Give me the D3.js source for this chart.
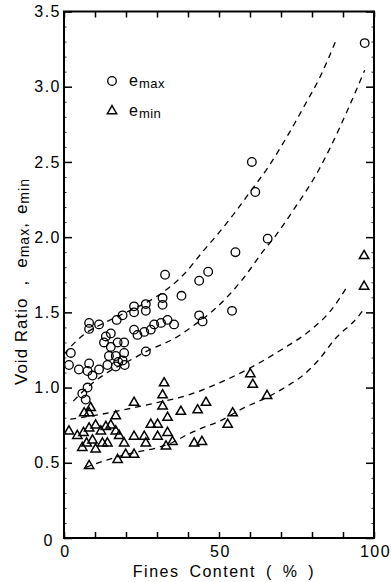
<!DOCTYPE html>
<html><head><meta charset="utf-8">
<script src="https://cdn.jsdelivr.net/npm/d3@7"></script>
<style>body{margin:0;background:#fff}svg{display:block}</style>
</head><body><svg id="c" width="391" height="582"></svg>
<script>
// Data: [fines content %, void ratio]
const emaxPoints = [
 [2.2,1.23],[1.6,1.15],[4.8,1.12],[7.6,1.11],[8.1,1.16],[9.2,1.08],[11.3,1.12],[14.0,1.15],[16.7,1.14],
 [16.7,1.21],[14.5,1.21],[12.9,1.30],[13.5,1.34],[15.1,1.36],[15.1,1.27],[17.3,1.30],[19.4,1.30],
 [19.4,1.23],[18.9,1.18],[19.6,1.15],[17.5,1.17],
 [8.1,1.43],[8.1,1.39],[11.3,1.42],[17.0,1.45],[18.9,1.48],[22.6,1.54],[22.6,1.50],
 [22.6,1.385],[23.7,1.35],[25.9,1.37],[28.0,1.385],[29.1,1.42],[31.3,1.43],[33.4,1.45],[35.5,1.42],
 [26.4,1.24],[26.4,1.555],[26.4,1.51],[31.8,1.595],[31.8,1.55],[32.6,1.75],[37.9,1.61],
 [43.6,1.71],[46.5,1.77],[43.6,1.48],[44.7,1.44],[54.2,1.51],[55.3,1.90],[65.7,1.99],
 [60.6,2.50],[61.7,2.30],[97.0,3.29],
 [7.6,1.00],[5.9,0.96],[7.0,0.92]
];
const eminPoints = [
 [1.6,0.71],[4.3,0.68],[6.3,0.70],[8.1,0.73],[10.2,0.75],[11.9,0.71],[13.5,0.74],[15.1,0.75],
 [16.7,0.71],[17.8,0.68],[19.4,0.63],[5.9,0.60],[7.3,0.63],[9.2,0.65],[10.2,0.59],[12.4,0.63],
 [14.0,0.63],[8.1,0.48],[17.3,0.52],[19.9,0.555],[22.6,0.555],[6.5,0.83],[8.1,0.83],[8.6,0.865],
 [16.7,0.81],[22.6,0.90],[22.6,0.675],[25.9,0.675],[26.4,0.63],[28.0,0.755],[30.2,0.755],[30.2,0.675],
 [33.4,0.70],[33.4,0.80],[31.8,0.875],[31.8,0.95],[32.3,1.03],[32.9,0.61],[35.0,0.64],[37.7,0.84],
 [42.0,0.63],[43.1,0.85],[44.5,0.64],[45.8,0.90],[52.8,0.755],[54.4,0.83],[60.1,1.09],[60.9,1.02],
 [65.5,0.946],[96.8,1.876],[96.8,1.672]
];
// Dashed trend curves
const emaxUpperCurve = [[0,1.22],[4,1.31],[8,1.375],[13,1.43],[20,1.50],[27,1.57],[33,1.65],[39,1.76],[45,1.91],[50,2.03],[55,2.16],[60,2.30],[66,2.47],[72,2.67],[78,2.89],[82,3.04],[88,3.32]];
const emaxLowerCurve = [[3,0.91],[8,1.01],[14,1.10],[21.6,1.185],[27,1.245],[35,1.32],[43,1.43],[48,1.51],[53,1.61],[58,1.73],[64,1.90],[69,2.03],[74,2.18],[82,2.44],[86,2.60],[91.6,2.85],[97,3.11]];
const eminUpperCurve = [[2,0.79],[10,0.815],[20,0.855],[30,0.90],[40,0.95],[50,1.03],[60,1.13],[70,1.25],[80,1.39],[86,1.51],[91.6,1.68]];
const eminLowerCurve = [[7,0.47],[14,0.52],[22,0.565],[30,0.60],[35,0.635],[40,0.69],[45,0.735],[50,0.775],[58,0.865],[65,0.93],[72,1.01],[77,1.08],[82,1.18],[87.3,1.32],[94.8,1.47],[97,1.53]];

const xMajorTicks = [0,10,20,30,40,50,60,70,80,90,100];
const xTickLabels = [0,50,100];
const yMajorTicks = [0,0.5,1.0,1.5,2.0,2.5,3.0,3.5];
const yMinorTicks = d3.range(0,3.51,0.1).map(v=>+v.toFixed(2));
const legendItems = ["max","min"];

const svg = d3.select("#c");
const FONT = "'Liberation Sans', Arial, sans-serif";
const x = d3.scaleLinear().domain([0,100]).range([64,374]);
const y = d3.scaleLinear().domain([0,3.5]).range([538,11.5]);

function styleAxis(g){
  g.select(".domain").remove();
  g.selectAll(".tick line").attr("stroke","#000").attr("stroke-width",1.5);
  g.selectAll("text").attr("font-family",FONT).attr("font-size",16).attr("letter-spacing",1.5).attr("fill","#000");
}
// bottom
svg.append("g").attr("transform",`translate(0,${y(0)})`)
  .call(d3.axisBottom(x).tickValues(xMajorTicks).tickSize(-6).tickPadding(8)
    .tickFormat(d=>xTickLabels.includes(d)?d:"")).call(styleAxis)
  .selectAll(".tick text").attr("dx",1);
// top
svg.append("g").attr("transform",`translate(0,${y(3.5)})`)
  .call(d3.axisTop(x).tickValues(xMajorTicks).tickSize(-6).tickFormat("")).call(styleAxis);
// left minor + major
svg.append("g").attr("transform",`translate(${x(0)},0)`)
  .call(d3.axisLeft(y).tickValues(yMinorTicks).tickSize(-2.5).tickFormat("")).call(styleAxis)
  .selectAll(".tick line").attr("stroke-width",0.8);
const gl = svg.append("g").attr("transform",`translate(${x(0)},0)`)
  .call(d3.axisLeft(y).tickValues(yMajorTicks).tickSize(-8).tickPadding(3)
    .tickFormat(d=>d===0?"0":d3.format(".1f")(d))).call(styleAxis);
gl.selectAll(".tick text").filter(d=>d===0).attr("dx",-7).attr("dy","0.45em");
// right
svg.append("g").attr("transform",`translate(${x(100)},0)`)
  .call(d3.axisRight(y).tickValues(yMinorTicks).tickSize(-2.5).tickFormat("")).call(styleAxis)
  .selectAll(".tick line").attr("stroke-width",0.8);
svg.append("g").attr("transform",`translate(${x(100)},0)`)
  .call(d3.axisRight(y).tickValues(yMajorTicks).tickSize(-8).tickFormat("")).call(styleAxis);

// frame
svg.append("rect").attr("x",x(0)).attr("y",y(3.5)).attr("width",x(100)-x(0)).attr("height",y(0)-y(3.5))
  .attr("fill","none").attr("stroke","#000").attr("stroke-width",2);

// dashed curves
const line = d3.line().x(d=>x(d[0])).y(d=>y(d[1])).curve(d3.curveMonotoneX);
[emaxUpperCurve,emaxLowerCurve,eminUpperCurve,eminLowerCurve].forEach(c=>{
  svg.append("path").attr("d",line(c)).attr("fill","none").attr("stroke","#000")
    .attr("stroke-width",1.3).attr("stroke-dasharray","6,5");
});

// points
svg.append("g").selectAll("circle").data(emaxPoints).join("circle")
  .attr("cx",d=>x(d[0])).attr("cy",d=>y(d[1])).attr("r",4.3)
  .attr("fill","none").attr("stroke","#000").attr("stroke-width",1.3);
const tri = d3.symbol(d3.symbolTriangle,38);
svg.append("g").selectAll("path").data(eminPoints).join("path")
  .attr("d",tri).attr("transform",d=>`translate(${x(d[0])},${y(d[1])})`)
  .attr("fill","none").attr("stroke","#000").attr("stroke-width",1.5);

// legend
const lg = svg.append("g");
lg.append("circle").attr("cx",112).attr("cy",81).attr("r",4.3).attr("fill","none").attr("stroke","#000").attr("stroke-width",1.3);
lg.append("path").attr("d",tri).attr("transform","translate(112,111)").attr("fill","none").attr("stroke","#000").attr("stroke-width",1.5);
legendItems.forEach((s,i)=>{
  const t = lg.append("text").attr("x",129).attr("y",i===0?86:116).attr("font-family",FONT).attr("font-size",16).attr("fill","#000");
  t.append("tspan").text("e");
  t.append("tspan").attr("dx",1).attr("dy",2).attr("font-size",13).attr("letter-spacing",0.5).text(s);
});

// axis titles
svg.append("text").attr("x",(x(0)+x(100))/2+5).attr("y",577).attr("text-anchor","middle")
  .attr("font-family",FONT).attr("font-size",16).attr("letter-spacing",1.5).attr("word-spacing",4).attr("fill","#000")
  .text("Fines Content ( % )");
const yt = svg.append("text").attr("transform","translate(27,385) rotate(-90)").attr("text-anchor","start")
  .attr("font-family",FONT).attr("font-size",17).attr("letter-spacing",1).attr("fill","#000");
yt.append("tspan").text("Void Ratio");
yt.append("tspan").attr("dx",12).text(",");
yt.append("tspan").attr("dx",12).text("e");
yt.append("tspan").attr("font-size",14).attr("dy",2).text("max");
yt.append("tspan").attr("dy",-2).text(",");
yt.append("tspan").attr("dx",8).text("e");
yt.append("tspan").attr("font-size",14).attr("dy",2).text("min");
</script></body></html>
